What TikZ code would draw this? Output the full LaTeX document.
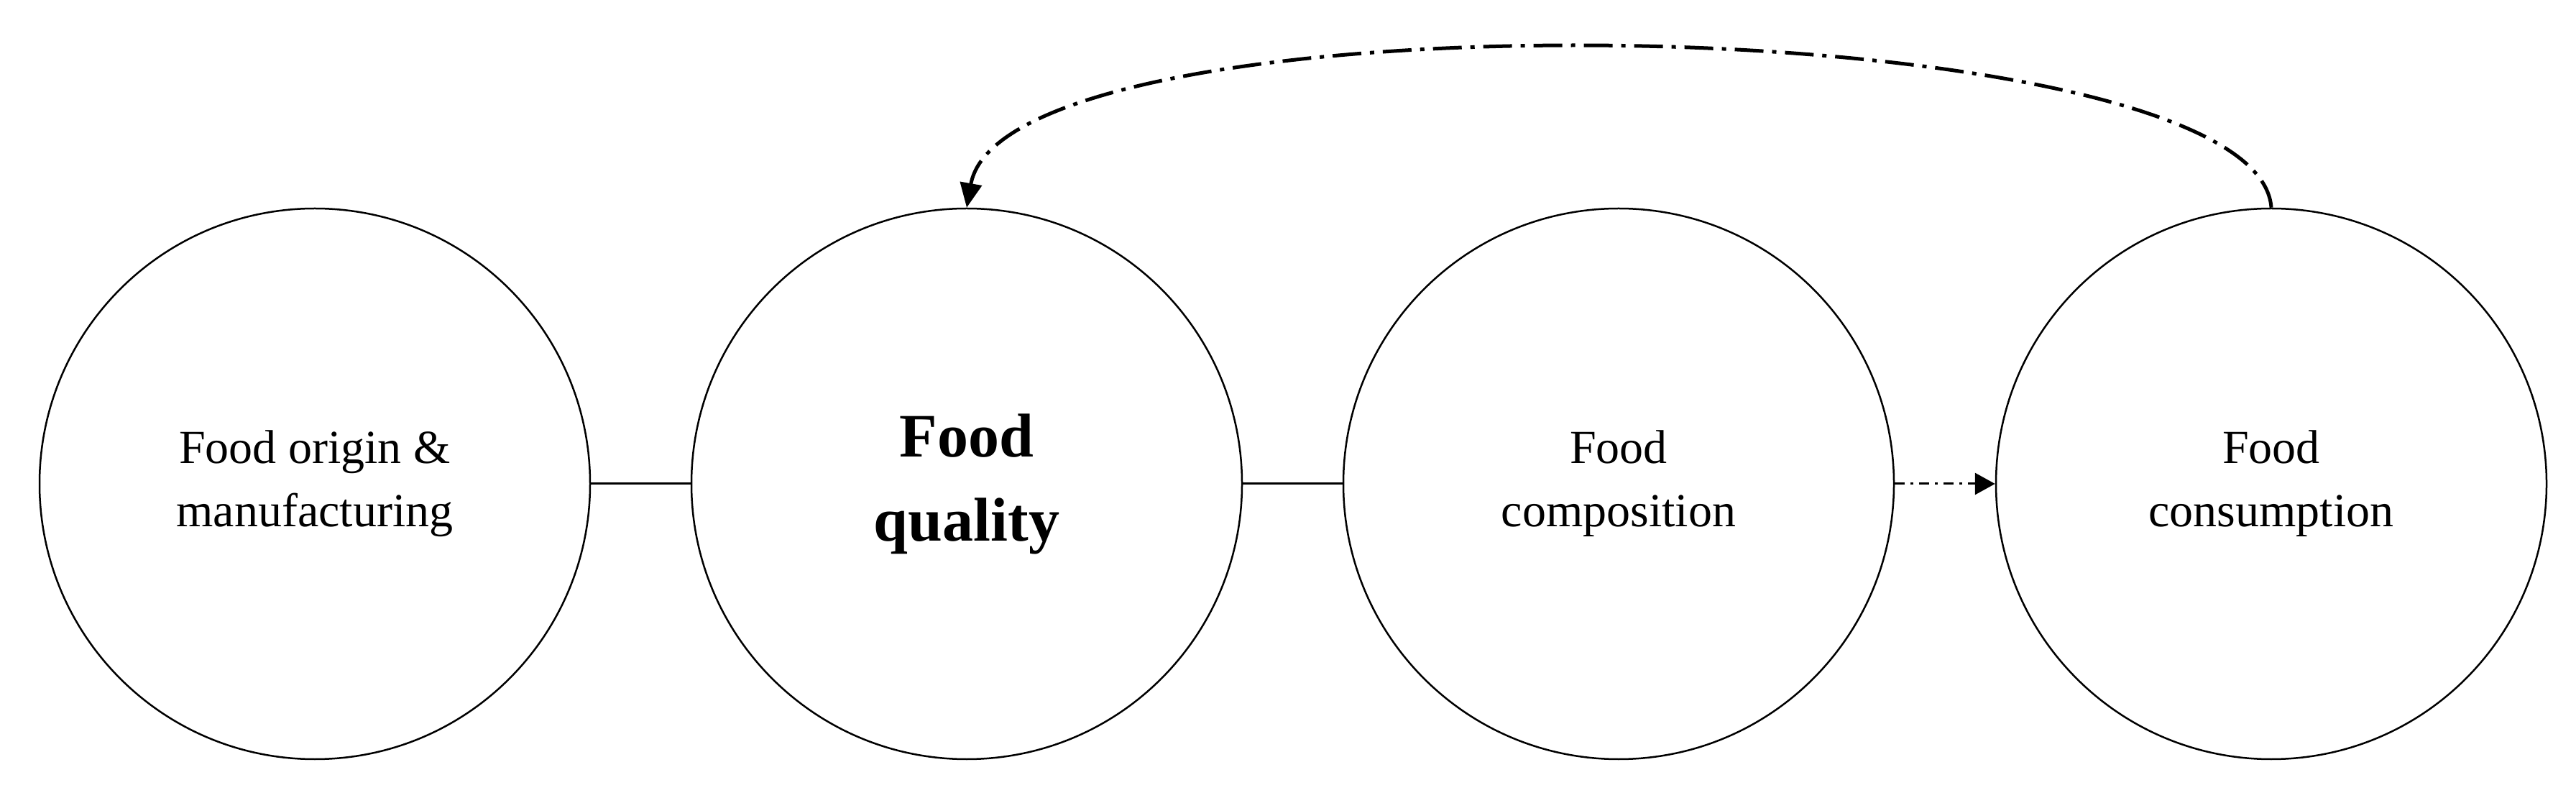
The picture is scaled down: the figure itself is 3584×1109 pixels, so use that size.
\documentclass[tikz,border=0pt]{standalone}
\usepackage{fontspec}
\setmainfont{Liberation Serif}
\usetikzlibrary{arrows.meta}
\begin{document}
\begin{tikzpicture}[x=1pt,y=1pt,
  circ/.style={circle,draw,line width=2.5pt,minimum size=766pt,inner sep=0pt,align=center,font=\fontsize{66}{88}\selectfont},
  link/.style={line width=3pt}]
\useasboundingbox (0,0) rectangle (3584,1109);
\node[circ] (a) at (438,436) {Food origin \&\\manufacturing};
\node[circ,font=\bfseries\fontsize{86}{117}\selectfont] (b) at (1345,436) {Food\\quality};
\node[circ] (c) at (2252,436) {Food\\composition};
\node[circ] (d) at (3160,436) {Food\\consumption};
\draw[link] (a) -- (b);
\draw[link] (b) -- (c);
\draw[line width=3pt,dash pattern=on 14pt off 8pt on 4pt off 8pt,-{Triangle[length=28pt,width=30pt]}] (c) -- (d);
\draw[line width=5pt,dash pattern=on 40pt off 12pt on 6pt off 12pt,-{Triangle[length=34pt,width=30pt]}] (d.north) .. controls (3140,1100) and (1400,1130) .. (b.north);
\end{tikzpicture}
\end{document}
